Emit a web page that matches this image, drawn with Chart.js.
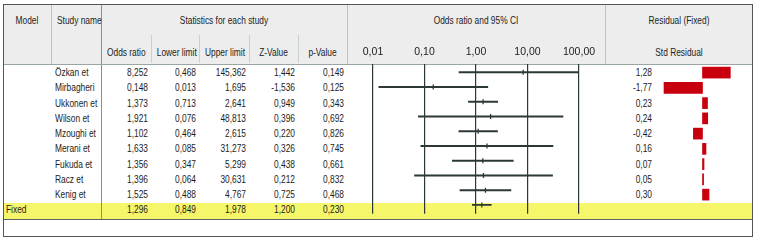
<!DOCTYPE html>
<html>
<head>
<meta charset="utf-8">
<script src="https://cdn.jsdelivr.net/npm/chart.js@4"></script>
<style>
  body { margin: 0; width: 760px; height: 245px; background: #fff; overflow: hidden; position: relative;
         font-family: "Liberation Sans", Arial, sans-serif; font-size: 11px; color: #1c1c1c; }
  .abs { position: absolute; }
  .t { position: absolute; white-space: nowrap; line-height: 14px; height: 14px; transform: scaleX(0.76); transform-origin: left center; }
  .box { position: absolute; left: 3px; top: 4px; width: 750px; height: 233px; border: 1px solid #555; box-sizing: border-box; }
  .head { position: absolute; left: 4px; top: 5px; width: 748px; height: 59px; background: #ededed; }
  .fixed { position: absolute; left: 4px; top: 203px; width: 748px; height: 16px; background: #f6f66a; }
  .vl { position: absolute; width: 1px; }
  .hl { position: absolute; height: 1px; }
  .c { text-align: center; transform-origin: center center; }
  .r { text-align: right; transform-origin: right center; }
</style>
</head>
<body>
<div class="head"></div>
<div class="fixed"></div>
<div class="box"></div>
<div id="txt"></div>
<div class="abs" style="left:347px; top:0; width:258px; height:219px;"><canvas id="forest"></canvas></div>
<div class="abs" style="left:605px; top:0; width:148px; height:219px;"><canvas id="resid"></canvas></div>
<script>
// study rows
const studies = ['Özkan et', 'Mirbagheri', 'Ukkonen et', 'Wilson et', 'Mzoughi et', 'Merani et', 'Fukuda et', 'Racz et', 'Kenig et']
const oddsRatio = [8.252, 0.148, 1.373, 1.921, 1.102, 1.633, 1.356, 1.396, 1.525]
const lowerLimit = [0.468, 0.013, 0.713, 0.076, 0.464, 0.085, 0.347, 0.064, 0.488]
const upperLimit = [145.362, 1.695, 2.641, 48.813, 2.615, 31.273, 5.299, 30.631, 4.767]
const zValue = [1.442, -1.536, 0.949, 0.396, 0.220, 0.326, 0.438, 0.212, 0.725]
const pValue = [0.149, 0.125, 0.343, 0.692, 0.826, 0.745, 0.661, 0.832, 0.468]
const stdResidual = [1.28, -1.77, 0.23, 0.24, -0.42, 0.16, 0.07, 0.05, 0.30]
// fixed effect summary: odds ratio, lower, upper, z, p
const fixedModel = 'Fixed'
const fixedRow = [1.296, 0.849, 1.978, 1.200, 0.230]
const axisTicks = [0.01, 0.1, 1, 10, 100]
const statHeaders = ['Odds ratio', 'Lower limit', 'Upper limit', 'Z-Value', 'p-Value']

const rowTop = 65, rowH = 15.25
const comma = (v, d) => v.toFixed(d).replace('.', ',')

const txt = document.getElementById('txt')
const addText = (s, css, cls) => {
  const d = document.createElement('div')
  d.className = 't ' + (cls || '')
  d.textContent = s
  d.style.cssText = css
  txt.appendChild(d)
}
const addLine = (cls, css) => {
  const d = document.createElement('div')
  d.className = cls
  d.style.cssText = css
  txt.appendChild(d)
}

// header lines
addLine('vl', 'left:51px; top:5px; height:59px; background:#b4c6c6;')
addLine('vl', 'left:101px; top:5px; height:214px; background:#7d9494;')
addLine('vl', 'left:347px; top:5px; height:59px; background:#b4c6c6;')
addLine('vl', 'left:605px; top:5px; height:59px; background:#b4c6c6;')
const colEdges = [101, 151, 199, 249, 298, 347]
for (let k = 1; k < 5; k++) addLine('vl', `left:${colEdges[k]}px; top:35px; height:28px; background:#c6d2d2;`)
addLine('hl', 'left:4px; top:64px; width:748px; background:#9aa6a6;')
addLine('hl', 'left:4px; top:219px; width:748px; background:#5a6464;')

// header texts
addText('Model', 'left:3px; width:48px; top:13px;', 'c')
addText('Study name', 'left:51px; width:50px; top:13px;', 'c')
addText('Statistics for each study', 'left:101px; width:246px; top:13px;', 'c')
addText('Odds ratio and 95% CI', 'left:347px; width:258px; top:13px;', 'c')
addText('Residual (Fixed)', 'left:605px; width:148px; top:13px;', 'c')
addText('Std Residual', 'left:605px; width:148px; top:45px;', 'c')
statHeaders.forEach((h, k) => {
  addText(h, `left:${colEdges[k]}px; width:${colEdges[k + 1] - colEdges[k]}px; top:45px;`, 'c')
})

// rows
const rowY = i => rowTop + rowH * i
for (let i = 0; i < studies.length; i++) {
  const y = rowY(i)
  addText(studies[i], `left:55px; top:${y}px;`)
  const vals = [oddsRatio[i], lowerLimit[i], upperLimit[i], zValue[i], pValue[i]]
  vals.forEach((v, k) => {
    addText(comma(v, 3), `left:${colEdges[k]}px; width:${colEdges[k + 1] - colEdges[k] - 3}px; top:${y}px;`, 'r')
  })
  addText(comma(stdResidual[i], 2), `left:605px; width:47px; top:${y}px;`, 'r')
}
const fy = rowY(studies.length)
addText(fixedModel, `left:6px; top:${fy}px;`)
fixedRow.forEach((v, k) => {
  addText(comma(v, 3), `left:${colEdges[k]}px; width:${colEdges[k + 1] - colEdges[k] - 3}px; top:${fy}px;`, 'r')
})

// shared row scale so marks line up with the text rows
const yMin = -(72.6 - 64) / rowH
const yMax = studies.length + (219 - (rowTop + rowH * studies.length + rowH / 2)) / rowH
const rowScale = () => ({ type: 'linear', display: false, reverse: true, offset: false, min: yMin, max: yMax })

const ciData = studies.map((s, i) => ({ x: [lowerLimit[i], upperLimit[i]], y: i }))
ciData.push({ x: [fixedRow[1], fixedRow[2]], y: studies.length })
const ptData = studies.map((s, i) => ({ x: oddsRatio[i], y: i }))
ptData.push({ x: fixedRow[0], y: studies.length })

const font = { family: '"Liberation Sans", Arial, sans-serif', size: 10.5 }
const lineCol = '#2c3838'

new Chart(document.getElementById('forest'), {
  type: 'bar',
  data: {
    datasets: [
      { data: ciData, backgroundColor: lineCol, barThickness: 1.3, borderWidth: 0 },
      { type: 'scatter', data: ptData, pointStyle: 'line', rotation: 90, radius: 2.5, borderWidth: 1.3,
        borderColor: lineCol, backgroundColor: lineCol }
    ]
  },
  options: {
    indexAxis: 'y',
    responsive: true,
    maintainAspectRatio: false,
    animation: false,
    layout: { padding: { left: 26, right: 26, top: 0, bottom: 0 } },
    plugins: { legend: { display: false }, tooltip: { enabled: false } },
    scales: {
      x: {
        type: 'logarithmic',
        position: 'top',
        min: axisTicks[0],
        max: axisTicks[axisTicks.length - 1],
        afterBuildTicks: s => { s.ticks = axisTicks.map(v => ({ value: v })) },
        afterFit: s => { s.height = 64 },
        grid: { color: lineCol, lineWidth: 1.2, drawTicks: false },
        border: { display: false },
        ticks: { color: '#1c1c1c', font: font, padding: 6, maxRotation: 0, autoSkip: false,
          callback: v => comma(v, 2) }
      },
      y: rowScale()
    }
  }
})

new Chart(document.getElementById('resid'), {
  type: 'bar',
  data: {
    datasets: [
      { data: stdResidual.map((v, i) => ({ x: v, y: i })), backgroundColor: '#c8000e', barThickness: 11, borderWidth: 0 }
    ]
  },
  options: {
    indexAxis: 'y',
    responsive: true,
    maintainAspectRatio: false,
    animation: false,
    layout: { padding: { left: 54, right: 7, top: 64, bottom: 0 } },
    plugins: { legend: { display: false }, tooltip: { enabled: false } },
    scales: {
      x: { type: 'linear', display: false, min: -2, max: 2 },
      y: rowScale()
    }
  }
})
</script>
</body>
</html>
